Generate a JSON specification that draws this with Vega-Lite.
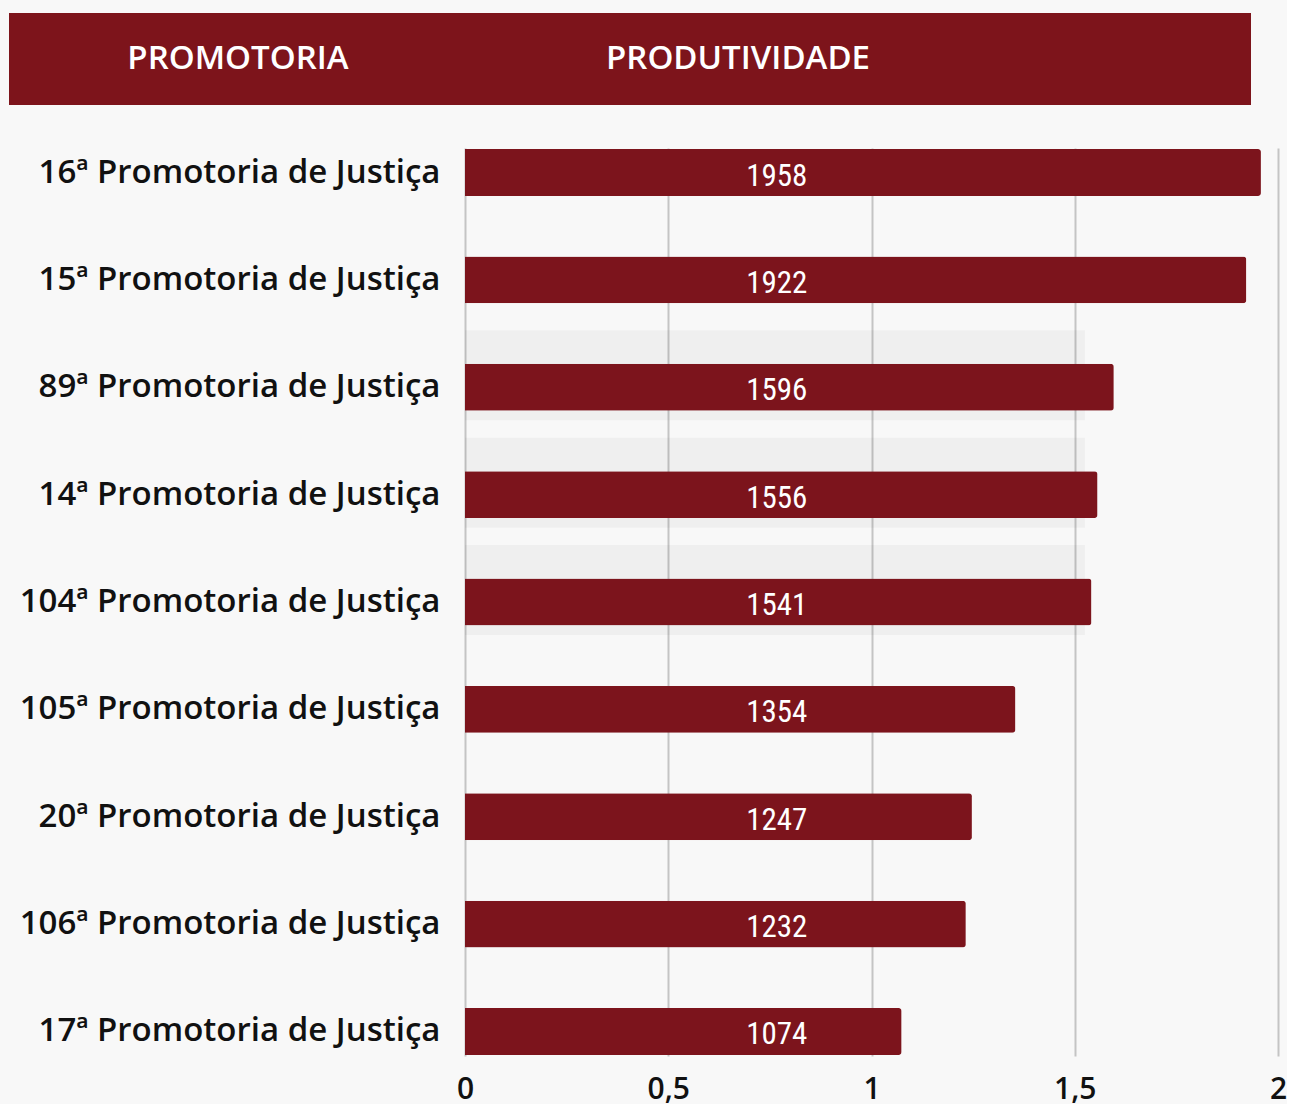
{
  "$schema": "https://vega.github.io/schema/vega-lite/v6.json",
  "background": "#f8f8f8",
  "padding": {"left": 9, "top": 13, "right": 0, "bottom": 0},
  "spacing": 43,
  "config": {
    "view": {"stroke": null},
    "font": "Open Sans"
  },
  "datasets": {
    "cabecalho": [
      {"coluna": "PROMOTORIA"},
      {"coluna": "PRODUTIVIDADE"}
    ],
    "promotorias": [
      {"promotoria": "16ª Promotoria de Justiça", "produtividade": 1958},
      {"promotoria": "15ª Promotoria de Justiça", "produtividade": 1922},
      {"promotoria": "89ª Promotoria de Justiça", "produtividade": 1596, "fundo": 1525},
      {"promotoria": "14ª Promotoria de Justiça", "produtividade": 1556, "fundo": 1525},
      {"promotoria": "104ª Promotoria de Justiça", "produtividade": 1541, "fundo": 1525},
      {"promotoria": "105ª Promotoria de Justiça", "produtividade": 1354},
      {"promotoria": "20ª Promotoria de Justiça", "produtividade": 1247},
      {"promotoria": "106ª Promotoria de Justiça", "produtividade": 1232},
      {"promotoria": "17ª Promotoria de Justiça", "produtividade": 1074}
    ]
  },
  "vconcat": [
    {
      "width": 813,
      "height": 92,
      "data": {"name": "cabecalho"},
      "layer": [
        {
          "mark": {"type": "rect", "color": "#7d141b", "clip": false},
          "encoding": {
            "x": {
              "field": "coluna",
              "type": "nominal",
              "scale": {"type": "band", "domain": ["PROMOTORIA", "PRODUTIVIDADE"], "range": [-456, 786], "paddingInner": 0, "paddingOuter": 0},
              "axis": null
            }
          }
        },
        {
          "mark": {"type": "text", "color": "white", "fontSize": 33, "fontWeight": 600, "baseline": "middle", "align": "center"},
          "encoding": {
            "x": {
              "field": "coluna",
              "type": "nominal",
              "scale": {"type": "point", "domain": ["PROMOTORIA", "PRODUTIVIDADE"], "range": [-227, 273], "padding": 0},
              "axis": null
            },
            "text": {"field": "coluna", "type": "nominal"}
          }
        }
      ],
      "resolve": {"scale": {"x": "independent"}}
    },
    {
      "width": 813,
      "height": 908,
      "data": {"name": "promotorias"},
      "encoding": {
        "y": {
          "field": "promotoria",
          "type": "nominal",
          "sort": null,
          "scale": {
            "domain": [
              "16ª Promotoria de Justiça",
              "15ª Promotoria de Justiça",
              "89ª Promotoria de Justiça",
              "14ª Promotoria de Justiça",
              "104ª Promotoria de Justiça",
              "105ª Promotoria de Justiça",
              "20ª Promotoria de Justiça",
              "106ª Promotoria de Justiça",
              "17ª Promotoria de Justiça"
            ],
            "paddingInner": 0.563,
            "paddingOuter": 0.01
          },
          "axis": {
            "labelFont": "Open Sans",
            "labelFontSize": 33,
            "labelFontWeight": 600,
            "labelColor": "#111111",
            "labelPadding": 25,
            "ticks": false,
            "domain": false,
            "grid": false,
            "title": null,
            "minExtent": 456,
            "maxExtent": 456,
            "labelLimit": 500
          }
        }
      },
      "layer": [
        {
          "mark": {"type": "bar", "color": "#000000", "opacity": 0.036, "height": 90, "yOffset": -12},
          "encoding": {
            "x": {"field": "fundo", "type": "quantitative"}
          }
        },
        {
          "mark": {"type": "bar", "color": "#7c141c", "cornerRadiusEnd": 3},
          "encoding": {
            "x": {
              "field": "produtividade",
              "type": "quantitative",
              "scale": {"domain": [0, 2000], "nice": false},
              "axis": {
                "labelFont": "Open Sans",
                "labelFontSize": 30,
                "labelFontWeight": 600,
                "labelColor": "#111111",
                "labelPadding": 18,
                "labelFlush": false,
                "ticks": false,
                "domain": false,
                "grid": true,
                "gridColor": "#c4c4c4",
                "gridWidth": 2,
                "title": null,
                "values": [0, 500, 1000, 1500, 2000],
                "labelExpr": "replace(format(datum.value / 1000, '~g'), '.', ',')"
              }
            }
          }
        },
        {
          "mark": {"type": "text", "color": "white", "fontSize": 31, "fontWeight": "normal", "font": "Roboto Condensed, Liberation Sans Narrow, Roboto", "baseline": "middle", "align": "center", "dy": 4},
          "encoding": {
            "x": {"datum": 767, "type": "quantitative"},
            "text": {"field": "produtividade", "type": "nominal"}
          }
        }
      ]
    }
  ]
}
